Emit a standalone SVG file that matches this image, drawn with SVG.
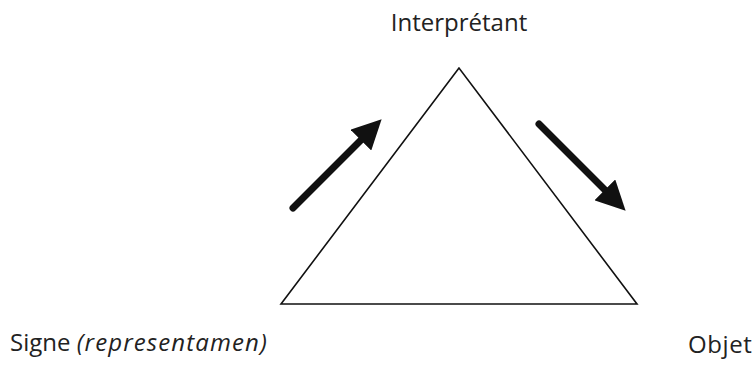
<svg xmlns="http://www.w3.org/2000/svg" width="755" height="370" viewBox="0 0 755 370">
<style>
.lbl{font-family:"Open Sans","Noto Sans","Liberation Sans",sans-serif;font-size:24px;fill:#222}
.tri{fill:#fff;stroke:#111;stroke-width:1.6;stroke-linejoin:miter}
.arr{stroke:#111;stroke-width:7;stroke-linecap:round;fill:none}
</style>
<defs>
<marker id="ah" viewBox="0 0 10 10" refX="2" refY="5" markerWidth="4.2" markerHeight="4.2" markerUnits="strokeWidth" orient="auto">
<path d="M0,0 L10,5 L0,10 Z" fill="#111"/>
</marker>
</defs>
<rect width="755" height="370" fill="#fff"/>
<g id="triangle"><polygon class="tri" points="459,68 281,304 637,304"/></g>
<g id="interpretant"><text class="lbl" x="459" y="31" text-anchor="middle">Interprétant</text></g>
<g id="signe"><text class="lbl" x="10" y="351">Signe <tspan font-style="italic" letter-spacing="1.1">(representamen)</tspan></text></g>
<g id="objet"><text class="lbl" x="688" y="353" letter-spacing="0.6">Objet</text></g>
<g id="connectors">
<line class="arr" x1="293" y1="208" x2="365" y2="136" marker-end="url(#ah)"/>
<line class="arr" x1="539" y1="124" x2="609" y2="194" marker-end="url(#ah)"/>
</g>
</svg>
